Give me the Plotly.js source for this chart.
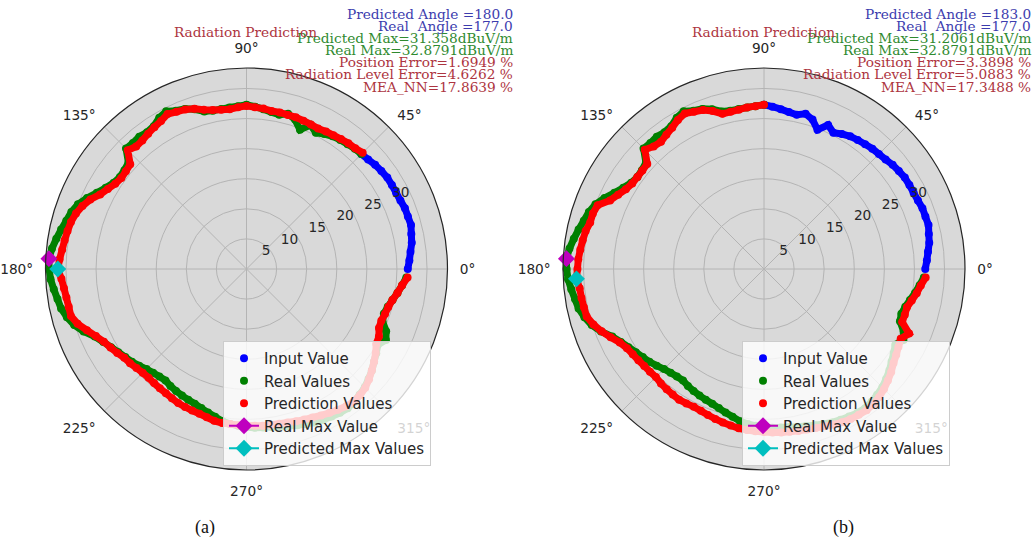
<!DOCTYPE html>
<html><head><meta charset="utf-8">
<script src="https://cdn.plot.ly/plotly-3.0.1.min.js"></script>
<style>html,body{margin:0;padding:0;background:#fff}</style>
</head><body><div id="chart" style="width:1035px;height:546px"></div>
<script>
// ---- data ----
const angles = [
  0,3,6,9,12,15,18,21,24,27, 30,33,36,39,42,45,48,51,54,57,
  60,63,66,69,72,75,78,81,84,87, 90,93,96,99,102,105,108,111,114,117,
  120,123,126,129,132,135,138,141,144,147, 150,153,156,159,162,165,168,171,174,177,
  180,183,186,189,192,195,198,201,204,207, 210,213,216,219,222,225,228,231,234,237,
  240,243,246,249,252,255,258,261,264,267, 270,273,276,279,282,285,288,291,294,297,
  300,303,306,309,312,315,318,321,324,327, 330,333,336,339,342,345,348,351,354,357
];
const realValues = [
  26.8,27.1,27.4,27.8,28.0,28.3,28.2,28.2,28.0,27.9,
  27.9,27.9,27.7,27.5,27.2,27.0,26.9,26.7,26.5,26.3,
  25.9,25.4,26.2,24.8,26.1,26.7,26.2,26.4,26.7,27.0,
  27.3,27.1,27.0,26.9,26.9,27.1,27.9,28.5,28.8,29.4,
  29.0,28.3,28.1,28.3,28.2,28.3,26.4,26.1,26.0,26.3,
  27.0,27.9,29.0,30.0,30.6,31.0,31.5,32.0,32.5,32.88,
  32.8,32.6,32.2,31.8,31.5,30.9,30.1,29.0,27.6,26.7,
  26.0,25.4,24.9,24.5,24.0,23.5,23.2,23.0,22.9,23.2,
  23.4,23.6,23.8,24.0,24.3,24.7,25.1,25.6,25.9,26.1,
  26.3,26.4,26.5,26.6,26.8,27.0,27.3,27.6,27.9,28.1,
  28.3,28.5,28.6,28.4,28.1,27.8,27.3,26.8,26.2,25.7,
  25.2,26.0,25.4,24.2,24.0,24.3,24.8,25.4,26.0,26.6
];
// (a): input ends at 45°, predictions from 45° to 357°
const inputEndA = 45;
const predictionA = [
  27.3,27.0,26.9,26.7,26.5,26.4,26.2,26.3,26.4,26.5,
  26.5,26.6,26.6,26.8,26.9,27.1,26.9,26.7,26.8,27.0,
  27.4,28.0,28.4,28.6,28.9,28.4,28.1,27.8,27.5,27.4,
  27.9,26.0,25.8,25.7,26.0,26.6,27.3,28.4,29.2,29.8,
  30.2,30.4,30.6,30.8,31.1,31.358,30.8,30.5,30.3,30.2,
  30.2,29.5,28.4,27.4,26.6,26.1,25.6,25.1,24.9,24.6,
  24.4,24.3,24.4,24.5,24.6,24.8,25.0,25.1,25.2,25.3,
  25.5,25.8,25.9,25.9,26.0,26.0,26.1,26.2,26.2,26.3,
  26.4,26.6,26.8,27.0,27.3,27.6,27.9,28.2,28.3,28.2,
  27.9,27.4,26.8,26.2,25.6,24.9,24.7,24.1,24.0,24.2,
  24.4,24.8,25.4,26.0,26.8
];
// (b): input ends at 90°, predictions from 90° to 357°
const inputEndB = 90;
const predictionB = [
  27.3,27.1,27.0,26.8,26.7,26.7,27.6,28.3,28.6,29.0,
  28.6,28.0,27.6,27.2,27.4,28.0,26.1,26.0,26.0,26.1,
  26.5,27.2,28.0,29.6,29.9,29.9,30.3,30.5,30.7,30.9,
  31.0,31.206,30.8,30.7,30.6,30.5,29.8,28.9,27.9,26.9,
  26.3,26.0,25.8,25.6,25.5,25.4,25.6,25.7,25.8,25.9,
  25.8,25.7,25.8,26.0,26.2,26.4,26.6,26.8,26.9,27.0,
  27.1,27.2,27.3,27.4,27.5,27.6,27.8,28.0,28.3,28.6,
  28.8,28.9,29.0,28.9,28.6,28.2,27.7,27.2,26.6,26.2,
  25.8,25.5,26.4,24.6,24.6,24.6,25.1,25.7,26.2,26.9
];
const realMaxAngle = [177];
const realMaxValue = [32.8791];
const predMaxAngleA = [180];
const predMaxValueA = [31.358];
const predMaxAngleB = [183];
const predMaxValueB = [31.2061];
const radialTicks = [5,10,15,20,25,30];
const statsA = ["Predicted Angle =180.0","Real  Angle =177.0","Predicted Max=31.358dBuV/m","Real Max=32.8791dBuV/m","Position Error=1.6949 %","Radiation Level Error=4.6262 %","MEA_NN=17.8639 %"];
const statsB = ["Predicted Angle =183.0","Real  Angle =177.0","Predicted Max=31.2061dBuV/m","Real Max=32.8791dBuV/m","Position Error=3.3898 %","Radiation Level Error=5.0883 %","MEA_NN=17.3488 %"];
const statColors = ["#3c3cae","#3c3cae","#2f8a2f","#2f8a2f","#ad3440","#ad3440","#ad3440"];
const plotTitle = "Radiation Prediction";
const captions = ["(a)","(b)"];
const legendNames = ["Input Value","Real Values","Prediction Values","Real Max Value","Predicted Max Values"];

// ---- build ----
const W = 1035, H = 546;
function seriesTraces(sub, leg, inputEnd, pred, predMaxA, predMaxV) {
  const iEnd = angles.indexOf(inputEnd);
  const inTheta = angles.slice(0, iEnd + 1), inR = realValues.slice(0, iEnd + 1);
  const reTheta = angles.slice(iEnd), reR = realValues.slice(iEnd);
  const prTheta = angles.slice(iEnd, iEnd + pred.length);
  const groups = [
    [inTheta, inR, '#0000ff', legendNames[0]],
    [reTheta, reR, '#008000', legendNames[1]],
    [prTheta, pred, '#ff0000', legendNames[2]]
  ];
  const out = [];
  groups.forEach((g, k) => {
    out.push({type:'scatterpolar', subplot:sub, theta:g[0], r:g[1], mode:'lines',
      line:{color:g[2], width:7}, showlegend:false, hoverinfo:'skip'});
    out.push({type:'scatterpolar', subplot:sub, legend:leg, legendgroup:leg+k, theta:g[0], r:g[1], mode:'markers',
      marker:{color:g[2], size:8}, name:g[3]});
  });
  out.push({type:'scatterpolar', subplot:sub, legend:leg, legendgroup:leg+'3', theta:realMaxAngle, r:realMaxValue,
    mode:'lines+markers', marker:{symbol:'diamond', size:13, color:'#bf00bf'}, line:{color:'#bf00bf', width:2}, name:legendNames[3]});
  out.push({type:'scatterpolar', subplot:sub, legend:leg, legendgroup:leg+'4', theta:predMaxA, r:predMaxV,
    mode:'lines+markers', marker:{symbol:'diamond', size:13, color:'#00bfbf'}, line:{color:'#00bfbf', width:2}, name:legendNames[4]});
  return out;
}
const traces = [].concat(
  seriesTraces('polar', 'legend', inputEndA, predictionA, predMaxAngleA, predMaxValueA),
  seriesTraces('polar2', 'legend2', inputEndB, predictionB, predMaxAngleB, predMaxValueB)
);

function polarLayout(cx) {
  const R = 201, cy = 269;
  return {
    domain:{x:[(cx-R)/W,(cx+R)/W], y:[(H-cy-R)/H,(H-cy+R)/H]},
    bgcolor:'#d9d9d9',
    angularaxis:{rotation:0, direction:'counterclockwise', dtick:45, ticksuffix:'°',
      showline:true, linecolor:'#262626', linewidth:1.2, gridcolor:'#b4b4b4', gridwidth:1,
      ticks:'outside', ticklen:9, tickcolor:'rgba(0,0,0,0)',
      tickfont:{family:'DejaVu Sans', size:13.7, color:'#262626'}},
    radialaxis:{range:[0,33.4], tickvals:radialTicks, angle:22.5, tickangle:22.5, side:'counterclockwise',
      showline:false, ticks:'', gridcolor:'#b4b4b4', gridwidth:1,
      tickfont:{family:'DejaVu Sans', size:13.7, color:'#262626'}}
  };
}
function legendLayout(left) {
  return {x:left/W, y:(H-341)/H, xanchor:'left', yanchor:'top',
    bgcolor:'rgba(255,255,255,0.8)', bordercolor:'#cccccc', borderwidth:1,
    font:{family:'DejaVu Sans', size:15, color:'#262626'}, tracegroupgap:0, traceorder:'grouped'};
}
const annotations = [];
const statY = [14,26,38,50,62,74,87];
[[statsA, 515],[statsB, 1033]].forEach(([lines, right]) => {
  lines.forEach((t, i) => annotations.push({xref:'paper', yref:'paper', x:right/W, y:1-statY[i]/H,
    xanchor:'right', yanchor:'middle', text:t, showarrow:false,
    font:{family:'DejaVu Serif', size:13.7, color:statColors[i]}}));
});
[245.5, 763].forEach(cx => annotations.push({xref:'paper', yref:'paper', x:cx/W, y:1-32/H,
  xanchor:'center', yanchor:'middle', text:plotTitle, showarrow:false,
  font:{family:'DejaVu Serif', size:13.7, color:'#ad3440'}}));
[[205, captions[0]],[843, captions[1]]].forEach(([cx, t]) => annotations.push({xref:'paper', yref:'paper', x:cx/W, y:1-527/H,
  xanchor:'center', yanchor:'middle', text:t, showarrow:false,
  font:{family:'Liberation Serif', size:18, color:'#111'}}));

const layout = {
  width:W, height:H, margin:{l:0,r:0,t:0,b:0}, paper_bgcolor:'#fff',
  showlegend:true,
  polar:polarLayout(246.5), polar2:polarLayout(764),
  legend:legendLayout(223), legend2:legendLayout(742),
  annotations:annotations
};
Plotly.newPlot('chart', traces, layout, {displayModeBar:false, staticPlot:true});
</script></body></html>
